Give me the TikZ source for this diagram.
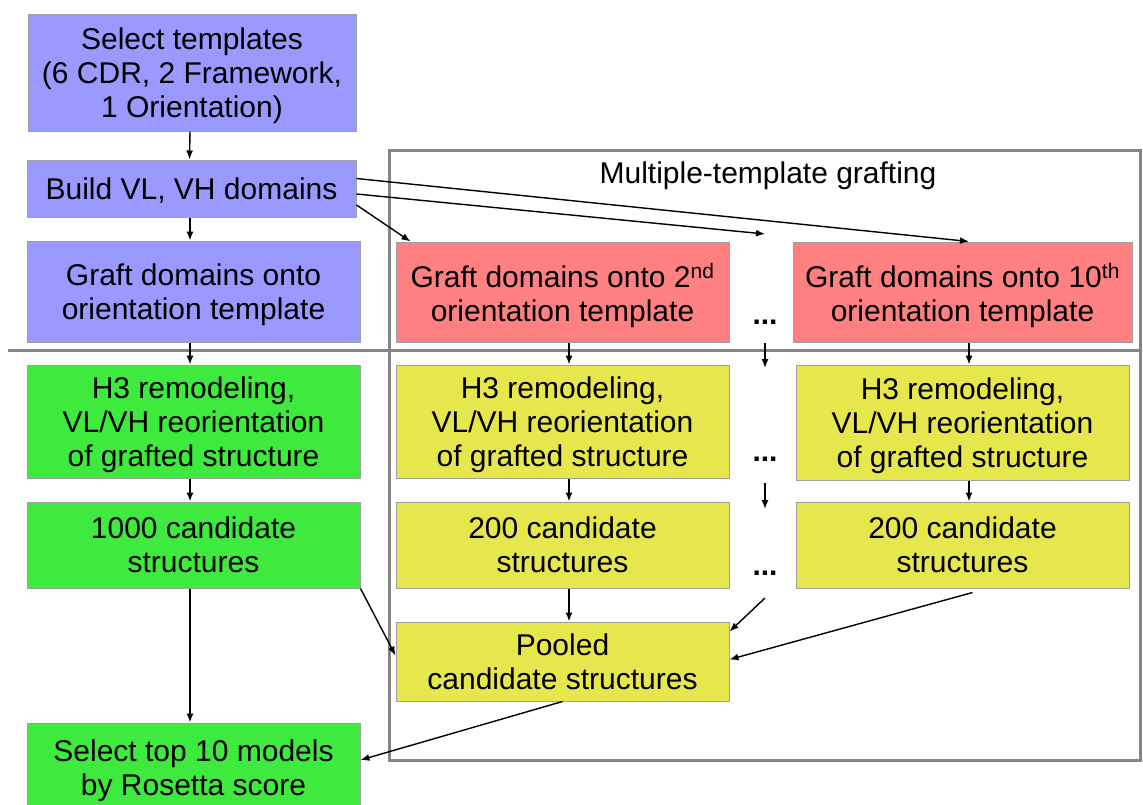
\documentclass[tikz,border=0pt]{standalone}
\usepackage{fontspec}
\setmainfont{Liberation Sans}
\usetikzlibrary{arrows.meta,positioning}
\definecolor{stpblue}{HTML}{9999FF}
\definecolor{stpred}{HTML}{FF8080}
\definecolor{stpgreen}{HTML}{3DEA3D}
\definecolor{stpyellow}{HTML}{E6E64D}
\definecolor{frmgray}{HTML}{858585}
\definecolor{boxgray}{HTML}{A0A0A0}

\begin{document}
\begin{tikzpicture}[x=1pt,y=-1pt,
  box/.style={rectangle,draw=boxgray,line width=1pt,align=center,
              font=\fontsize{30}{34}\selectfont,inner sep=0pt,
              text depth=-2pt,minimum width=333pt},
  arr/.style={line width=1.4pt,-{Latex[length=9pt,width=7pt]}},
  dots/.style={font=\fontsize{30}{34}\selectfont\bfseries,inner sep=0pt}
]
\useasboundingbox (0,0) rectangle (1143,804);

% ---- Frame of the multiple-template part -------------------
\draw[frmgray,line width=3pt] (389,150) rectangle (1140,760);
\draw[frmgray,line width=3pt] (8,350) -- (1140,350);
\node[font=\fontsize{30}{34}\selectfont] (ttl) at (768,176)
  {Multiple-template grafting};

% ---- Left column -------------------------------------------
\node[box,fill=stpblue,minimum width=328pt,minimum height=117pt]
  (sel) at (192,72.5) {Select templates\\(6 CDR, 2 Framework,\\1 Orientation)};
\node[box,fill=stpblue,minimum width=329pt,minimum height=57pt]
  (bld) at (191.5,188.5) {Build VL, VH domains};
\node[box,fill=stpblue,minimum height=101pt]
  (gftA) at (193.5,291.5) {Graft domains onto\\orientation template};
\node[box,fill=stpgreen,minimum height=113pt]
  (h3A) at (193.5,421.5) {H3 remodeling,\\VL/VH reorientation\\of grafted structure};
\node[box,fill=stpgreen,minimum height=86pt]
  (candA) at (193.5,545) {1000 candidate\\structures};
\node[box,fill=stpgreen,minimum height=90pt]
  (top) at (193.5,768) {Select top 10 models\\by Rosetta score};

% ---- 2nd template column -----------------------------------
\node[box,fill=stpred,minimum height=100pt]
  (gftB) at (562.5,292) {Graft domains onto 2\textsuperscript{nd}\\orientation template};
\node[box,fill=stpyellow,minimum height=113pt]
  (h3B) at (562.5,421.5) {H3 remodeling,\\VL/VH reorientation\\of grafted structure};
\node[box,fill=stpyellow,minimum height=86pt]
  (candB) at (562.5,545) {200 candidate\\structures};
\node[box,fill=stpyellow,minimum height=79pt]
  (pool) at (562.5,661.5) {Pooled\\candidate structures};

% ---- 10th template column ----------------------------------
\node[box,fill=stpred,minimum width=339pt,minimum height=100pt]
  (gftJ) at (962.5,292) {Graft domains onto 10\textsuperscript{th}\\orientation template};
\node[box,fill=stpyellow,minimum height=115pt]
  (h3J) at (962.5,422.5) {H3 remodeling,\\VL/VH reorientation\\of grafted structure};
\node[box,fill=stpyellow,minimum height=86pt]
  (candJ) at (962.5,545) {200 candidate\\structures};

% ---- Ellipsis column ---------------------------------------
\node[dots] (dotsA) at (765,322) {...};
\node[dots] (dotsB) at (765,459) {...};
\node[dots] (dotsC) at (765,573) {...};
\coordinate (dtop) at (765,234);
\coordinate (dA1) at (765,343);
\coordinate (dA2) at (765,368);
\coordinate (dB1) at (765,483);
\coordinate (dB2) at (765,509);
\coordinate (dC1) at (765,598);

% ---- Edges -------------------------------------------------
\draw[arr] ([xshift=-2pt]sel.south) -- ([xshift=-2pt]bld.north);
\draw[arr] ([xshift=-1.5pt]bld.south) -- ([xshift=-3.5pt]gftA.north);
\draw[arr] ([yshift=10pt]bld.east) -- ([xshift=6.5pt]gftJ.north);
\draw[arr] ([yshift=-5.5pt]bld.east) -- (dtop);
\draw[arr] ([yshift=-16.5pt]bld.east) -- ([xshift=15pt]gftB.north west);
\draw[arr] ([xshift=-3.5pt]gftA.south) -- ([xshift=-3.5pt]h3A.north);
\draw[arr] ([xshift=-3.5pt]h3A.south) -- ([xshift=-3.5pt]candA.north);
\draw[arr] ([xshift=-3.5pt]candA.south) -- ([xshift=-3.5pt]top.north);
\draw[arr] ([xshift=6.5pt]gftB.south) -- ([xshift=6.5pt]h3B.north);
\draw[arr] ([xshift=6.5pt]h3B.south) -- ([xshift=6.5pt]candB.north);
\draw[arr] ([xshift=6.5pt]candB.south) -- ([xshift=6.5pt]pool.north);
\draw[arr] ([xshift=6.5pt]gftJ.south) -- ([xshift=6.5pt]h3J.north);
\draw[arr] ([xshift=6.5pt]h3J.south) -- ([xshift=6.5pt]candJ.north);
\draw[arr] (dA1) -- (dA2);
\draw[arr] (dB1) -- (dB2);
\draw[arr] (dC1) -- ([yshift=-10pt]pool.north east);
\draw[arr] (candA.south east) -- ([yshift=6pt]pool.west);
\draw[arr] ([xshift=10pt,yshift=-4pt]candJ.south) -- ([yshift=2pt]pool.east);
\draw[arr] (pool.south) -- ([yshift=8pt]top.east);

\end{tikzpicture}
\end{document}
